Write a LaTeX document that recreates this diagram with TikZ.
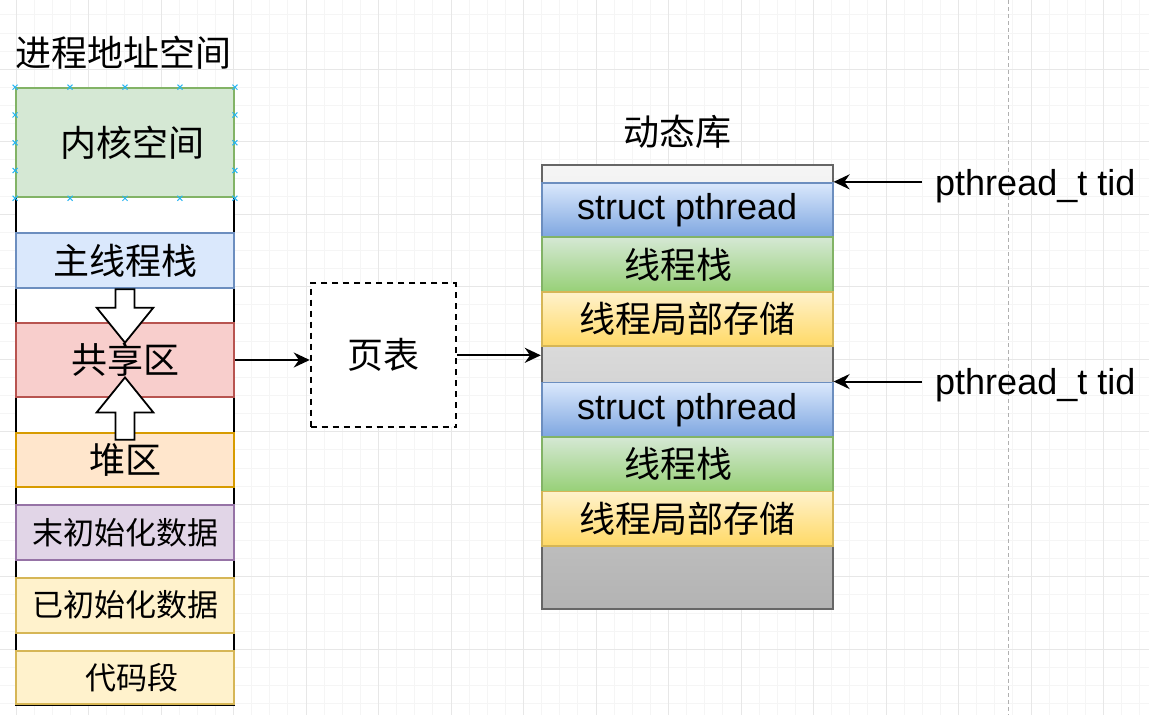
\documentclass[tikz,border=0pt]{standalone}
\usepackage{fontspec}
\setmainfont{Liberation Sans}
\newfontfamily\cjk{Noto Sans CJK SC}
\usepackage{tikz}
\usetikzlibrary{arrows.meta, positioning, calc}
\definecolor{gridminor}{HTML}{F5F5F5}
\definecolor{gridmajor}{HTML}{E7E7E7}
\definecolor{pageline}{HTML}{B0B0B0}
\definecolor{conblue}{HTML}{29B6F2}
\definecolor{kernfill}{HTML}{D5E8D4}
\definecolor{kernline}{HTML}{82B366}
\definecolor{stackfill}{HTML}{DAE8FC}
\definecolor{stackline}{HTML}{6C8EBF}
\definecolor{sharefill}{HTML}{F8CECC}
\definecolor{shareline}{HTML}{B85450}
\definecolor{heapfill}{HTML}{FFE6CC}
\definecolor{heapline}{HTML}{D79B00}
\definecolor{bssfill}{HTML}{E1D5E7}
\definecolor{bssline}{HTML}{9673A6}
\definecolor{datafill}{HTML}{FFF2CC}
\definecolor{dataline}{HTML}{D6B656}
\definecolor{bluegrad}{HTML}{7EA6E0}
\definecolor{greengrad}{HTML}{97D077}
\definecolor{yellowgrad}{HTML}{FFD966}
\definecolor{libtop}{HTML}{F5F5F5}
\definecolor{libbot}{HTML}{B3B3B3}
\definecolor{libline}{HTML}{666666}

\begin{document}
\begin{tikzpicture}[
    x=1pt, y=-1pt,
    seg/.style={
        draw, line width=1.8pt, rectangle, inner sep=0pt,
        minimum width=218pt, minimum height=55pt,
        font=\cjk\fontsize{36}{43}\selectfont,
    },
    smallseg/.style={seg, font=\cjk\fontsize{31}{37}\selectfont},
    libseg/.style={
        draw, line width=1.8pt, rectangle, inner sep=0pt,
        minimum width=291pt, minimum height=54.5pt,
        font=\cjk\fontsize{36}{43}\selectfont,
    },
    pthr/.style={libseg, draw=stackline, top color=stackfill, bottom color=bluegrad, font=\fontsize{36}{43}\selectfont},
    tstack/.style={libseg, draw=kernline, top color=kernfill, bottom color=greengrad},
    tls/.style={libseg, draw=dataline, top color=datafill, bottom color=yellowgrad},
    title/.style={inner sep=0pt, font=\cjk\fontsize{36}{43}\selectfont},
    tid/.style={inner xsep=13pt, inner ysep=0pt, font=\fontsize{36}{43}\selectfont},
    arr/.style={-{Stealth[length=16pt, width=15pt]}, line width=2pt, draw=black},
    blockarr/.style={draw=black, fill=white, line width=1.8pt, line join=miter},
    conpt/.style={draw=conblue, line width=1pt},
]
\useasboundingbox (0,0) rectangle (1149,715);
\begin{scope}
\clip (0,0) rectangle (1149,715);
\foreach \i in {0,...,64} {
    \draw[gridminor, line width=1pt] ({-2.125+18.125*\i},0) -- ++(0,715);
    \draw[gridminor, line width=1pt] (0,{-3.2+18.125*\i}) -- ++(1149,0);
}
\foreach \i in {0,...,15} \draw[gridmajor, line width=1pt] ({16+72.5*\i},0) -- ++(0,715);
\foreach \i in {0,...,8} \draw[gridmajor, line width=1pt] (0,{69.3+72.5*\i}) -- ++(1149,0);
\draw[pageline, line width=1pt, dash pattern=on 4pt off 3pt] (1008.3,0) -- (1008.3,715);
\end{scope}

% process address space
\node[title] (pastitle) at (124,53) {进程地址空间};
\node[draw, line width=1.8pt, fill=white, minimum width=218pt, minimum height=617pt] (col) at (125,396.3) {};
\node[seg, draw=kernline, fill=kernfill, minimum height=109.3pt] (kernel) at (125,142.7) {\hspace*{16pt}内核空间};
\node[seg, draw=stackline, fill=stackfill] (mstack) at (125,260.8) {主线程栈};
\node[seg, draw=shareline, fill=sharefill, minimum height=73.4pt] (shared) at (125,360) {共享区};
\node[seg, draw=heapline, fill=heapfill, minimum height=54.6pt] (heap) at (125,460) {堆区};
\node[smallseg, draw=bssline, fill=bssfill] (bss) at (125,532.5) {末初始化数据};
\node[smallseg, draw=dataline, fill=datafill] (data) at (125,605.2) {已初始化数据};
\node[smallseg, draw=dataline, fill=datafill, minimum height=53.6pt] (code) at (125,677.5) {\hspace*{13pt}代码段};

\foreach \t in {0,0.25,0.5,0.75,1} {
    \draw[conpt] ($(kernel.north west)!\t!(kernel.north east)$) ++(-2.5,-2.5) -- ++(5,5) ++(-5,0) -- ++(5,-5);
    \draw[conpt] ($(kernel.south west)!\t!(kernel.south east)$) ++(-2.5,-2.5) -- ++(5,5) ++(-5,0) -- ++(5,-5);
}
\foreach \t in {0.25,0.5,0.75} {
    \draw[conpt] ($(kernel.north west)!\t!(kernel.south west)$) ++(-2.5,-2.5) -- ++(5,5) ++(-5,0) -- ++(5,-5);
    \draw[conpt] ($(kernel.north east)!\t!(kernel.south east)$) ++(-2.5,-2.5) -- ++(5,5) ++(-5,0) -- ++(5,-5);
}

\begin{scope}[shift={(mstack.south)}]
\draw[blockarr] (-9.5,0) -- (-9.5,18.5) -- (-28.3,18.5) -- (0,53.5) -- (28.3,18.5) -- (9.5,18.5) -- (9.5,0) -- cycle;
\end{scope}
\begin{scope}[shift={(heap.north)}]
\draw[blockarr] (-9.5,8) -- (-9.5,-19.4) -- (-28.3,-19.4) -- (0,-54.4) -- (28.3,-19.4) -- (9.5,-19.4) -- (9.5,8) -- cycle;
\end{scope}

% page table
\node[draw, line width=1.8pt, dash pattern=on 6pt off 5pt, fill=white, minimum width=145.3pt, minimum height=144pt, font=\cjk\fontsize{36}{43}\selectfont] (pt) at (383.3,355.3) {页表};

% shared library
\node[title] (libtitle) at (677,132) {动态库};
\node[draw=libline, line width=1.8pt, top color=libtop, bottom color=libbot, minimum width=291pt, minimum height=444.3pt] (lib) at (687.2,387.2) {};
\node[pthr] (sp1) at (687.2,210) {\raisebox{3pt}{struct pthread}};
\node[tstack] (st1) at (687.2,264.5) {\hspace*{-18pt}线程栈};
\node[tls] (tls1) at (687.2,319) {线程局部存储};
\node[pthr] (sp2) at (687.2,409.7) {\raisebox{3pt}{struct pthread}};
\node[tstack] (st2) at (687.2,464.2) {\hspace*{-18pt}线程栈};
\node[tls] (tls2) at (687.2,518.7) {线程局部存储};

\node[tid, anchor=west] (tid1) at (922,186.5) {pthread\_t tid};
\node[tid, anchor=west] (tid2) at (922,385) {pthread\_t tid};

\draw[arr] (shared.east) -- (shared.east -| pt.west);
\draw[arr] (pt.east) -- (pt.east -| lib.west);
\draw[arr] (tid1.west |- sp1.north east) -- (sp1.north east);
\draw[arr] (tid2.west |- sp2.north east) -- (sp2.north east);
\end{tikzpicture}
\end{document}
